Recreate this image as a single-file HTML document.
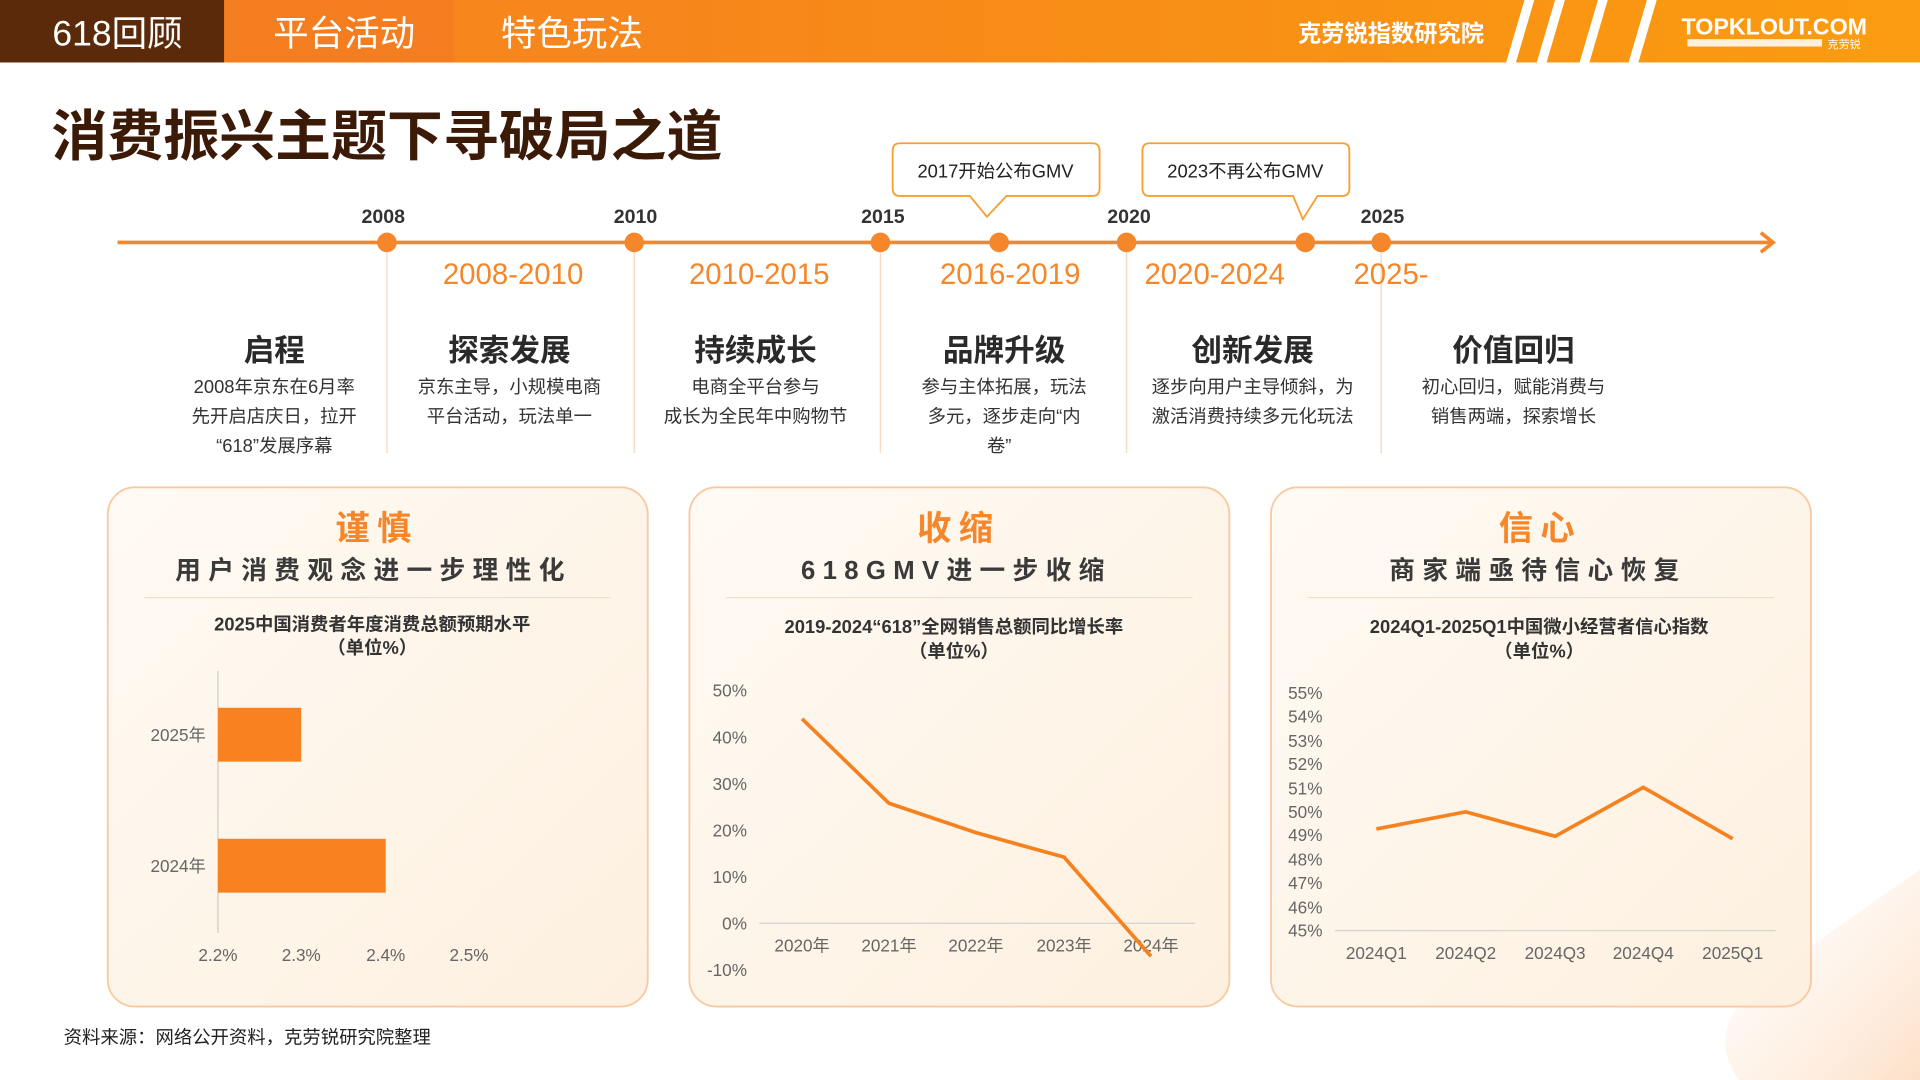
<!DOCTYPE html>
<html><head><meta charset="utf-8"><style>
html,body{margin:0;padding:0;background:#fff;}
svg{display:block;}
text{font-family:"Liberation Sans","Noto Sans CJK SC",sans-serif;}
</style></head><body>
<svg width="1920" height="1080" viewBox="0 0 1568 882" xmlns="http://www.w3.org/2000/svg">
<defs>
<linearGradient id="hd" x1="0" x2="1"><stop offset="0" stop-color="#f47a1f"/><stop offset="1" stop-color="#fb9c10"/></linearGradient>
<linearGradient id="cd" x1="0" y1="0" x2="1" y2="1"><stop offset="0" stop-color="#fffaf4"/><stop offset="1" stop-color="#fdf0df"/></linearGradient>
<linearGradient id="br" x1="0" y1="0" x2="1" y2="1"><stop offset="0" stop-color="#fff4ea" stop-opacity="0"/><stop offset="1" stop-color="#fde0c8"/></linearGradient>
</defs>
<rect width="1568" height="882" fill="#fff"/>
<path d="M1420 882 Q1390 840 1440 800 L1568 710 L1568 882 Z" fill="url(#br)"/>
<!-- header -->
<rect x="0" y="0" width="1568" height="51" fill="url(#hd)"/>
<rect x="0" y="0" width="183" height="51" fill="#5a2a0a"/>
<rect x="185" y="0" width="185" height="51" fill="#f47d20"/>
<rect x="372" y="0" width="191" height="51" fill="#f7861c"/>
<text x="96" y="37" font-size="29" fill="#fff" text-anchor="middle">618回顾</text>
<text x="281" y="37" font-size="29" fill="#fff" text-anchor="middle">平台活动</text>
<text x="467" y="37" font-size="29" fill="#fff" text-anchor="middle">特色玩法</text>
<text x="1136" y="34" font-size="19" font-weight="bold" fill="#fff" text-anchor="middle">克劳锐指数研究院</text>
<g fill="#fff"><polygon points="1245,0 1253,0 1238,51 1230,51"/><polygon points="1270,0 1278,0 1263,51 1255,51"/><polygon points="1305,0 1313,0 1298,51 1290,51"/><polygon points="1345,0 1353,0 1338,51 1330,51"/></g>
<text x="1449" y="28" font-size="19" font-weight="bold" fill="#fff" text-anchor="middle">TOPKLOUT.COM</text>
<rect x="1378" y="32" width="110" height="6" fill="#fff" opacity="0.85"/>
<text x="1506" y="39" font-size="9" fill="#fff" text-anchor="middle">克劳锐</text>
<!-- title -->
<text x="42" y="127" font-size="45" font-weight="bold" fill="#3b1a08" textLength="548" lengthAdjust="spacingAndGlyphs">消费振兴主题下寻破局之道</text>
<!-- timeline -->
<g stroke="#f6dcc6" stroke-width="1.2">
<line x1="316" y1="200" x2="316" y2="370"/><line x1="518" y1="200" x2="518" y2="370"/><line x1="719" y1="200" x2="719" y2="370"/><line x1="920" y1="200" x2="920" y2="370"/><line x1="1128" y1="200" x2="1128" y2="370"/>
</g>
<line x1="96" y1="198" x2="1448" y2="198" stroke="#f5872a" stroke-width="3"/>
<polyline points="1438,190 1448,198 1438,206" fill="none" stroke="#f5872a" stroke-width="3"/>
<g fill="#f5872a"><circle cx="316" cy="198" r="8"/><circle cx="518" cy="198" r="8"/><circle cx="719" cy="198" r="8"/><circle cx="816" cy="198" r="8"/><circle cx="920" cy="198" r="8"/><circle cx="1066" cy="198" r="8"/><circle cx="1128" cy="198" r="8"/></g>
<g font-size="16" font-weight="bold" fill="#333" text-anchor="middle"><text x="313" y="182">2008</text><text x="519" y="182">2010</text><text x="721" y="182">2015</text><text x="922" y="182">2020</text><text x="1129" y="182">2025</text></g>
<path d="M735 117 H892 Q898 117 898 123 V154 Q898 160 892 160 H822 L806 177 L792 160 H735 Q729 160 729 154 V123 Q729 117 735 117 Z" fill="#fff" stroke="#f5a030" stroke-width="1.5"/>
<text x="813" y="145" font-size="15" fill="#222" text-anchor="middle">2017开始公布GMV</text>
<path d="M939 117 H1096 Q1102 117 1102 123 V154 Q1102 160 1096 160 H1076 L1064 179 L1056 160 H939 Q933 160 933 154 V123 Q933 117 939 117 Z" fill="#fff" stroke="#f5a030" stroke-width="1.5"/>
<text x="1017" y="145" font-size="15" fill="#222" text-anchor="middle">2023不再公布GMV</text>
<g font-size="24" fill="#f5872a" text-anchor="middle"><text x="419" y="232">2008-2010</text><text x="620" y="232">2010-2015</text><text x="825" y="232">2016-2019</text><text x="992" y="232">2020-2024</text><text x="1136" y="232">2025-</text></g>
<g font-size="25" font-weight="bold" fill="#2a2a2a" text-anchor="middle"><text x="224" y="295">启程</text><text x="416" y="295">探索发展</text><text x="617" y="295">持续成长</text><text x="820" y="295">品牌升级</text><text x="1023" y="295">创新发展</text><text x="1236" y="295">价值回归</text></g>
<g font-size="15" fill="#333" text-anchor="middle">
<text x="224" y="321">2008年京东在6月率</text><text x="224" y="345">先开启店庆日，拉开</text><text x="224" y="369">“618”发展序幕</text>
<text x="416" y="321">京东主导，小规模电商</text><text x="416" y="345">平台活动，玩法单一</text>
<text x="617" y="321">电商全平台参与</text><text x="617" y="345">成长为全民年中购物节</text>
<text x="820" y="321">参与主体拓展，玩法</text><text x="820" y="345">多元，逐步走向“内</text><text x="816" y="369">卷”</text>
<text x="1023" y="321">逐步向用户主导倾斜，为</text><text x="1023" y="345">激活消费持续多元化玩法</text>
<text x="1236" y="321">初心回归，赋能消费与</text><text x="1236" y="345">销售两端，探索增长</text>
</g>
<!-- cards -->
<g fill="url(#cd)" stroke="#f9c9a0" stroke-width="1.5">
<rect x="88" y="398" width="441" height="424" rx="22"/><rect x="563" y="398" width="441" height="424" rx="22"/><rect x="1038" y="398" width="441" height="424" rx="22"/>
</g>
<g font-size="28" font-weight="bold" fill="#f5872a" text-anchor="middle" letter-spacing="6"><text x="308" y="441">谨慎</text><text x="783" y="441">收缩</text><text x="1258" y="441">信心</text></g>
<g font-size="21" font-weight="bold" fill="#3a3a3a" text-anchor="middle" letter-spacing="6"><text x="305" y="473">用户消费观念进一步理性化</text><text x="781" y="473">618GMV进一步收缩</text><text x="1256" y="473">商家端亟待信心恢复</text></g>
<g stroke="#f3dcc8" stroke-width="1"><line x1="118" y1="488" x2="499" y2="488"/><line x1="593" y1="488" x2="974" y2="488"/><line x1="1068" y1="488" x2="1449" y2="488"/></g>
<g font-size="15" font-weight="bold" fill="#333" text-anchor="middle">
<text x="304" y="515">2025中国消费者年度消费总额预期水平</text><text x="304" y="534">（单位%）</text>
<text x="779" y="517">2019-2024“618”全网销售总额同比增长率</text><text x="779" y="537">（单位%）</text>
<text x="1257" y="517">2024Q1-2025Q1中国微小经营者信心指数</text><text x="1257" y="537">（单位%）</text>
</g>
<!-- chart1 -->
<line x1="178" y1="548" x2="178" y2="762" stroke="#ccc" stroke-width="1"/>
<rect x="178" y="578" width="68" height="44" fill="#f7821f"/>
<rect x="178" y="685" width="137" height="44" fill="#f7821f"/>
<g font-size="14" fill="#666"><text x="168" y="605" text-anchor="end">2025年</text><text x="168" y="712" text-anchor="end">2024年</text>
<g text-anchor="middle"><text x="178" y="785">2.2%</text><text x="246" y="785">2.3%</text><text x="315" y="785">2.4%</text><text x="383" y="785">2.5%</text></g></g>
<!-- chart2 -->
<line x1="620" y1="754" x2="976" y2="754" stroke="#d5d5d5" stroke-width="1"/>
<g font-size="14" fill="#666" text-anchor="end"><text x="610" y="569">50%</text><text x="610" y="607">40%</text><text x="610" y="645">30%</text><text x="610" y="683">20%</text><text x="610" y="721">10%</text><text x="610" y="759">0%</text><text x="610" y="797">-10%</text></g>
<g font-size="14" fill="#666" text-anchor="middle"><text x="655" y="777">2020年</text><text x="726" y="777">2021年</text><text x="797" y="777">2022年</text><text x="869" y="777">2023年</text><text x="940" y="777">2024年</text></g>
<polyline points="655,587 726,656 797,680 869,700 940,781" fill="none" stroke="#f5821f" stroke-width="3"/>
<!-- chart3 -->
<line x1="1090" y1="760" x2="1450" y2="760" stroke="#d5d5d5" stroke-width="1"/>
<g font-size="14" fill="#666" text-anchor="end"><text x="1080" y="571">55%</text><text x="1080" y="590">54%</text><text x="1080" y="610">53%</text><text x="1080" y="629">52%</text><text x="1080" y="649">51%</text><text x="1080" y="668">50%</text><text x="1080" y="687">49%</text><text x="1080" y="707">48%</text><text x="1080" y="726">47%</text><text x="1080" y="746">46%</text><text x="1080" y="765">45%</text></g>
<g font-size="14" fill="#666" text-anchor="middle"><text x="1124" y="783">2024Q1</text><text x="1197" y="783">2024Q2</text><text x="1270" y="783">2024Q3</text><text x="1342" y="783">2024Q4</text><text x="1415" y="783">2025Q1</text></g>
<polyline points="1124,677 1197,663 1270,683 1342,643 1415,685" fill="none" stroke="#f5821f" stroke-width="3"/>
<text x="52" y="852" font-size="15" fill="#222">资料来源：网络公开资料，克劳锐研究院整理</text>
</svg>
</body></html>
